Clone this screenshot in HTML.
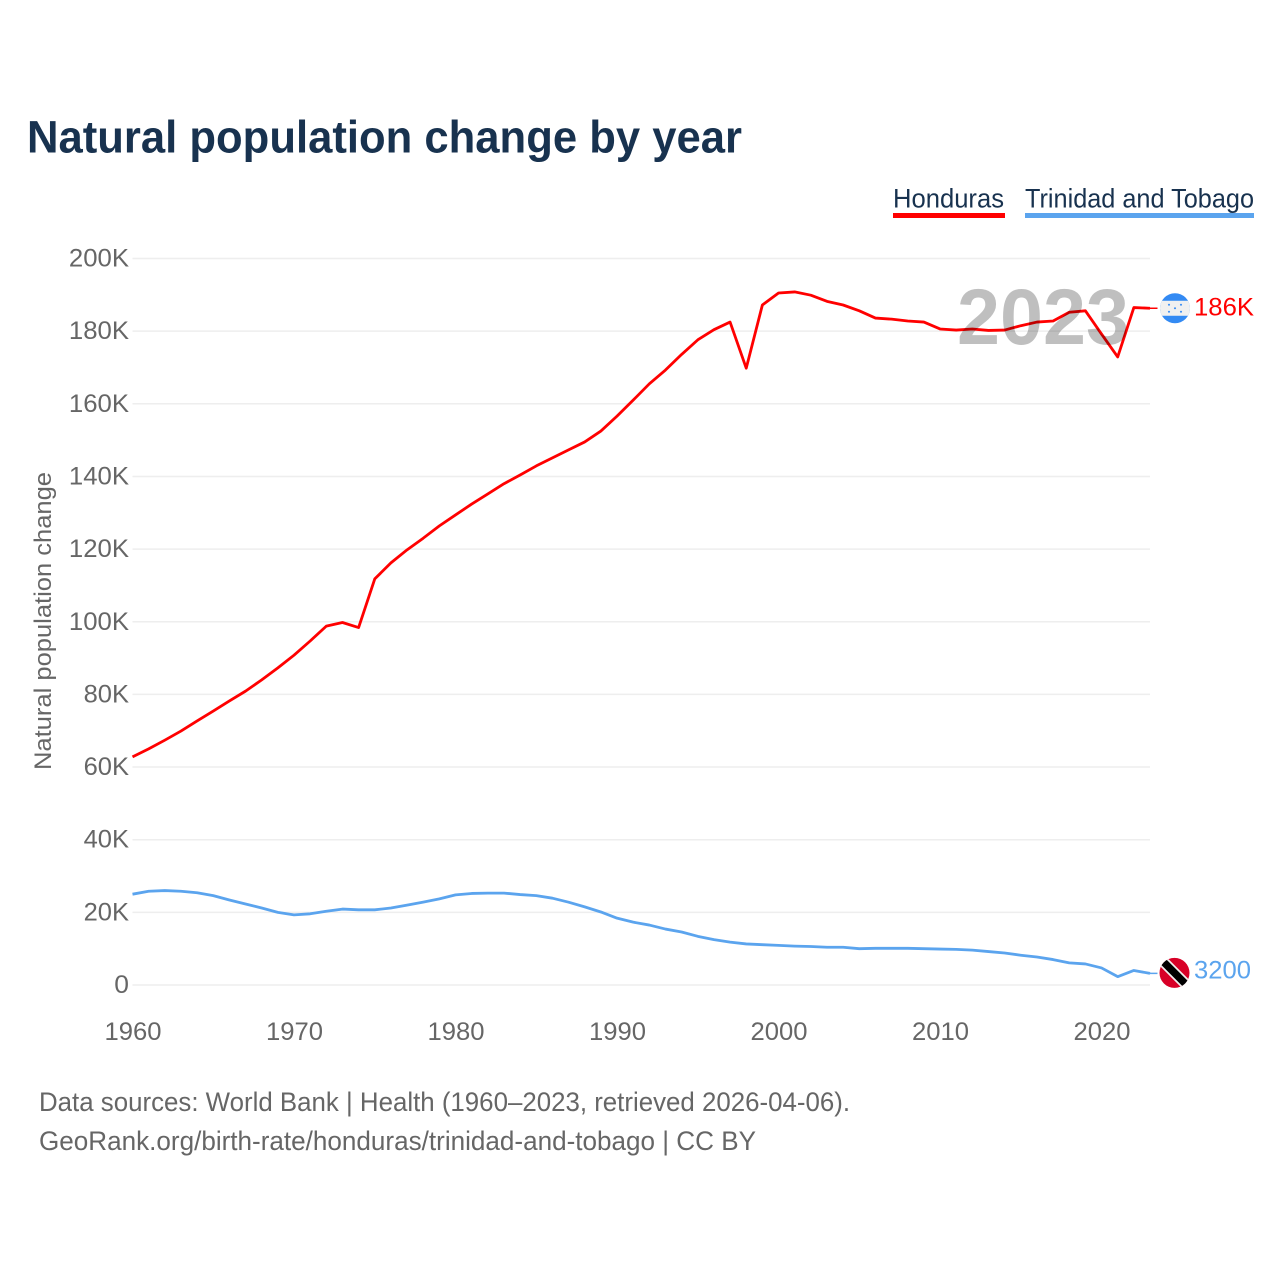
<!DOCTYPE html>
<html lang="en">
<head>
<meta charset="utf-8">
<title>Natural population change by year</title>
<style>
html,body{margin:0;padding:0;background:#fff;}
svg{display:block;font-family:"Liberation Sans",sans-serif;}
</style>
</head>
<body>
<svg id="chart" width="1280" height="1280" viewBox="0 0 1280 1280" xmlns="http://www.w3.org/2000/svg">
  <defs>
    <clipPath id="flag-clip-hn"><circle cx="0" cy="0" r="15"></circle></clipPath>
    <clipPath id="flag-clip-tt"><circle cx="0" cy="0" r="15"></circle></clipPath>
  </defs>
  <rect x="0" y="0" width="1280" height="1280" fill="#fff"></rect>
  <text x="27" y="152.5" font-size="45" font-weight="700" fill="#18324f" textLength="715" lengthAdjust="spacingAndGlyphs">Natural population change by year</text>

  <g>
    <g>
      <text x="893" y="207.5" font-size="26.5" fill="#18324f" textLength="111" lengthAdjust="spacingAndGlyphs">Honduras</text>
      <rect x="893" y="213" width="112" height="5" fill="#ff0000"></rect>
    </g>
    <g>
      <text x="1025" y="207.5" font-size="26.5" fill="#18324f" textLength="229" lengthAdjust="spacingAndGlyphs">Trinidad and Tobago</text>
      <rect x="1025" y="213" width="229" height="5" fill="#5ba4ee"></rect>
    </g>
  </g>

  <g id="grid"></g>
  <g id="y-ticks"></g>
  <g id="x-ticks"></g>
  <text transform="translate(51 621) rotate(-90)" text-anchor="middle" font-size="24.5" fill="#666" textLength="298" lengthAdjust="spacingAndGlyphs">Natural population change</text>

  <g id="series"></g>

  <text x="957" y="344" font-size="79" font-weight="700" fill="#000" fill-opacity="0.25" textLength="172" lengthAdjust="spacingAndGlyphs">2023</text>

  <g id="flag-hn">
    <g clip-path="url(#flag-clip-hn)">
      <rect x="-16" y="-16" width="32" height="32" fill="#338af3"></rect>
      <rect x="-16" y="-7.5" width="32" height="15" fill="#f0f0f0"></rect>
      <g fill="#338af3">
        <circle cx="-6" cy="-3.5" r="1"></circle>
        <circle cx="6" cy="-3.5" r="1"></circle>
        <circle cx="0" cy="0" r="1"></circle>
        <circle cx="-6" cy="3.5" r="1"></circle>
        <circle cx="6" cy="3.5" r="1"></circle>
      </g>
    </g>
  </g>
  <g id="flag-tt">
    <g clip-path="url(#flag-clip-tt)">
      <rect x="-16" y="-16" width="32" height="32" fill="#d80027"></rect>
      <line x1="-16" y1="-16" x2="16" y2="16" stroke="#f0f0f0" stroke-width="11"></line>
      <line x1="-16" y1="-16" x2="16" y2="16" stroke="#000" stroke-width="7.5"></line>
    </g>
  </g>
  <text id="label-hn" x="1194" y="315" font-size="25" fill="#ff0000" textLength="60" lengthAdjust="spacingAndGlyphs">186K</text>
  <text id="label-tt" x="1194" y="978" font-size="25" fill="#5ba4ee" textLength="57" lengthAdjust="spacingAndGlyphs">3200</text>

  <g font-size="26.5" fill="#666">
    <text x="39" y="1111" textLength="811" lengthAdjust="spacingAndGlyphs">Data sources: World Bank | Health (1960–2023, retrieved 2026-04-06).</text>
    <text x="39" y="1150" textLength="717" lengthAdjust="spacingAndGlyphs">GeoRank.org/birth-rate/honduras/trinidad-and-tobago | CC BY</text>
  </g>
</svg>
<script>
const years = [1960,1961,1962,1963,1964,1965,1966,1967,1968,1969,1970,1971,1972,1973,1974,1975,1976,1977,1978,1979,1980,1981,1982,1983,1984,1985,1986,1987,1988,1989,1990,1991,1992,1993,1994,1995,1996,1997,1998,1999,2000,2001,2002,2003,2004,2005,2006,2007,2008,2009,2010,2011,2012,2013,2014,2015,2016,2017,2018,2019,2020,2021,2022,2023];
const honduras = [62.8,65,67.4,69.9,72.7,75.4,78.2,80.9,84,87.3,90.8,94.7,98.8,99.8,98.4,111.8,116.2,119.8,123,126.4,129.4,132.4,135.2,138,140.4,142.9,145.1,147.3,149.5,152.5,156.6,161,165.5,169.3,173.6,177.6,180.4,182.5,169.8,187.2,190.5,190.8,189.9,188.2,187.2,185.6,183.6,183.3,182.8,182.5,180.6,180.3,180.6,180.2,180.3,181.5,182.5,182.8,185.2,185.6,179.2,172.9,186.5,186.3];
const trinidad = [25,25.8,26,25.8,25.4,24.6,23.4,22.3,21.2,20,19.3,19.6,20.3,20.9,20.7,20.7,21.2,22,22.8,23.7,24.8,25.2,25.3,25.3,24.9,24.6,23.9,22.8,21.5,20.1,18.4,17.3,16.5,15.4,14.6,13.4,12.5,11.8,11.3,11.1,10.9,10.7,10.6,10.4,10.4,10,10.1,10.1,10.1,10,9.9,9.8,9.6,9.2,8.8,8.2,7.7,7,6.1,5.8,4.7,2.3,4,3.2];
const yTickValues = [0,20,40,60,80,100,120,140,160,180,200];
const yTickLabels = ["0","20K","40K","60K","80K","100K","120K","140K","160K","180K","200K"];
const xTickValues = [1960,1970,1980,1990,2000,2010,2020];

const NS = "http://www.w3.org/2000/svg";
const plotLeft = 132.5, plotRight = 1150, plotBottom = 985, plotTop = 258.5;
function xScale(year){
  return plotLeft + (year - 1960) * (plotRight - plotLeft) / (2023 - 1960);
}
function yScale(value){
  return plotBottom - value * (plotBottom - plotTop) / 200;
}
function make(tag, attrs, parent){
  const el = document.createElementNS(NS, tag);
  for (const k in attrs) el.setAttribute(k, attrs[k]);
  parent.appendChild(el);
  return el;
}
const gridG = document.getElementById("grid");
const yTicksG = document.getElementById("y-ticks");
const xTicksG = document.getElementById("x-ticks");
const seriesG = document.getElementById("series");

yTickValues.forEach(function(v, i){
  const line = make("line", {x1: plotLeft, x2: plotRight, y1: yScale(v), y2: yScale(v), stroke: "#eeeeee", "stroke-width": 1.5}, gridG);
  
  
  const label = yTickLabels[i];
  const width = (label.length - (label === "0" ? 0 : 1)) * 14.7 + (label === "0" ? 0 : 16);
  const t = make("text", {x: 129, y: yScale(v) + 8, "text-anchor": "end", "font-size": 25, fill: "#666", textLength: width, lengthAdjust: "spacingAndGlyphs"}, yTicksG);
  t.textContent = label;
  
  
});
xTickValues.forEach(function(v){
  const t = make("text", {x: xScale(v) + 0.5, y: 1040, "text-anchor": "middle", "font-size": 25, fill: "#666", textLength: 57, lengthAdjust: "spacingAndGlyphs"}, xTicksG);
  t.textContent = String(v);
  
  
});

function drawSeries(values, color){
  const pts = values.map(function(v, i){ return xScale(years[i]).toFixed(2) + "," + yScale(v).toFixed(2); }).join(" ");
  const line = make("polyline", {points: pts, fill: "none", stroke: color, "stroke-width": 2.8, "stroke-linejoin": "round"}, seriesG);
  const lastY = yScale(values[values.length - 1]);
  const lead = make("line", {x1: plotRight, x2: 1157.5, y1: lastY, y2: lastY, stroke: color, "stroke-width": 1.5}, seriesG);
  return {line: line, lead: lead, lastY: lastY};
}
const hn = drawSeries(honduras, "#ff0000");




const tt = drawSeries(trinidad, "#5ba4ee");





document.getElementById("flag-hn").setAttribute("transform", "translate(1175 " + hn.lastY.toFixed(2) + ")");
document.getElementById("flag-tt").setAttribute("transform", "translate(1174.5 " + (tt.lastY - 0.5).toFixed(2) + ")");
document.getElementById("label-hn").setAttribute("y", (hn.lastY + 7).toFixed(2));
document.getElementById("label-tt").setAttribute("y", (tt.lastY + 5).toFixed(2));
</script>
</body>
</html>
